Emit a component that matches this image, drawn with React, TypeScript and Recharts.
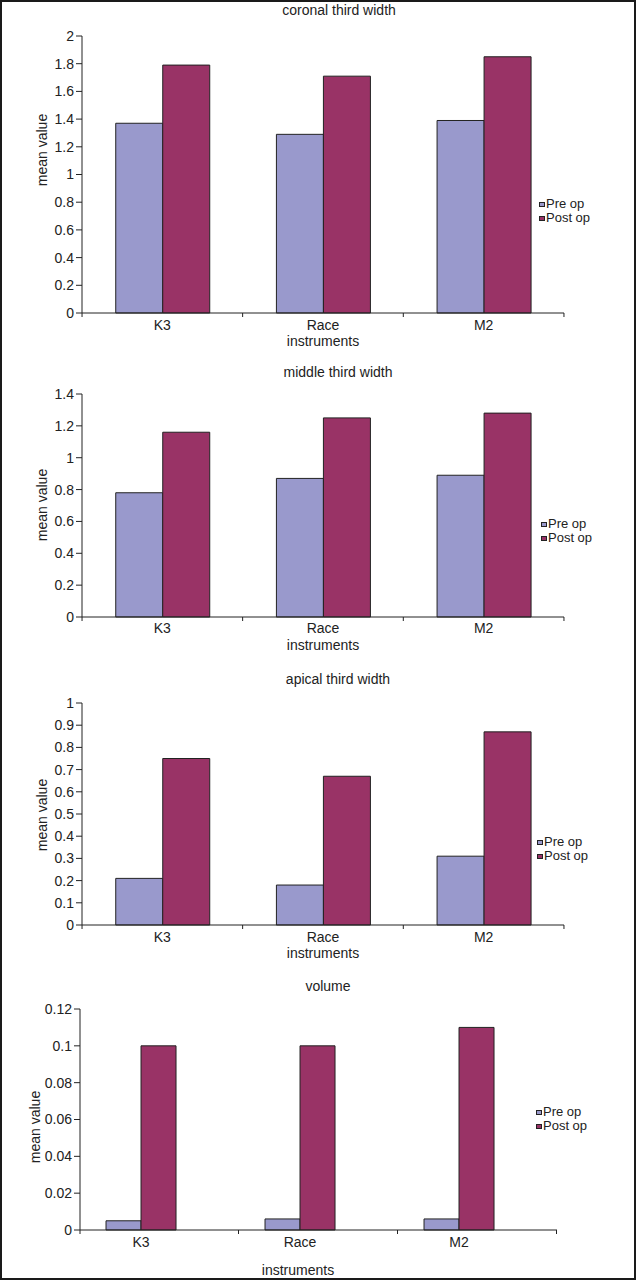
import React from "react";
import { BarChart, Bar, XAxis, YAxis, Legend } from "recharts";

// data
const categories = ["K3", "Race", "M2"];
const seriesNames = ["Pre op", "Post op"];

const coronalPre = [1.37, 1.29, 1.39];
const coronalPost = [1.79, 1.71, 1.85];
const coronalTicks = [0, 0.2, 0.4, 0.6, 0.8, 1, 1.2, 1.4, 1.6, 1.8, 2];

const middlePre = [0.78, 0.87, 0.89];
const middlePost = [1.16, 1.25, 1.28];
const middleTicks = [0, 0.2, 0.4, 0.6, 0.8, 1, 1.2, 1.4];

const apicalPre = [0.21, 0.18, 0.31];
const apicalPost = [0.75, 0.67, 0.87];
const apicalTicks = [0, 0.1, 0.2, 0.3, 0.4, 0.5, 0.6, 0.7, 0.8, 0.9, 1];

const volumePre = [0.005, 0.006, 0.006];
const volumePost = [0.1, 0.1, 0.11];
const volumeTicks = [0, 0.02, 0.04, 0.06, 0.08, 0.1, 0.12];

const COLORS = {
    pre: "#9999cc",
    post: "#993366",
    ink: "#222",
};

const FONT = '"Liberation Sans", Arial, sans-serif';

const rows = (pre: number[], post: number[]) =>
    categories.map((name, i) => ({ name, pre: pre[i], post: post[i] }));

// layout of each panel, in page pixels
const panels = [
    {
        title: "coronal third width", data: rows(coronalPre, coronalPost), ticks: coronalTicks,
        top: 0, height: 355, plotTop: 36, plotBottom: 313, plotLeft: 82, plotRight: 564,
        titleX: 339, titleY: 10, yLabelX: 42, yLabelY: 150, catY: 325, instrX: 323, instrY: 341,
        legendX: 539, legendY: 204, gap: "21%", pad: { left: 0, right: 0 }, tickL: 80.3, tickR: 80.3,
    },
    {
        title: "middle third width", data: rows(middlePre, middlePost), ticks: middleTicks,
        top: 355, height: 307, plotTop: 394, plotBottom: 617, plotLeft: 82, plotRight: 564,
        titleX: 338, titleY: 372, yLabelX: 42, yLabelY: 505, catY: 628, instrX: 323, instrY: 645,
        legendX: 541, legendY: 524, gap: "21%", pad: { left: 0, right: 0 }, tickL: 80.3, tickR: 80.3,
    },
    {
        title: "apical third width", data: rows(apicalPre, apicalPost), ticks: apicalTicks,
        top: 662, height: 308, plotTop: 703, plotBottom: 925, plotLeft: 82, plotRight: 564,
        titleX: 338, titleY: 679, yLabelX: 42, yLabelY: 815, catY: 937, instrX: 323, instrY: 953,
        legendX: 537, legendY: 842, gap: "21%", pad: { left: 0, right: 0 }, tickL: 80.3, tickR: 80.3,
    },
    {
        title: "volume", data: rows(volumePre, volumePost), ticks: volumeTicks,
        top: 970, height: 310, plotTop: 1009, plotBottom: 1230, plotLeft: 80, plotRight: 557,
        titleX: 328, titleY: 986, yLabelX: 35, yLabelY: 1127, catY: 1242, instrX: 298, instrY: 1270,
        legendX: 536, legendY: 1112, gap: "28%", pad: { left: -18.5, right: 18.5 }, tickL: 61, tickR: 97.5,
    },
];

type Panel = (typeof panels)[number];

const fmt = (v: number) => String(Number(v.toFixed(3)));

function CatTick(props: any) {
    const { x, y, payload, index, cfg } = props;
    return (
        <g>
            <text x={x} y={cfg.catY - cfg.top} textAnchor="middle" dominantBaseline="central"
                fontSize={14} fill={COLORS.ink} fontFamily={FONT}>{payload.value}</text>
            <line x1={x + cfg.tickR} x2={x + cfg.tickR} y1={y} y2={y + 4} stroke={COLORS.ink} />
            {index === 0 && <line x1={x - cfg.tickL} x2={x - cfg.tickL} y1={y} y2={y + 4} stroke={COLORS.ink} />}
        </g>
    );
}

function LegendBox() {
    const fills = [COLORS.pre, COLORS.post];
    return (
        <div style={{ fontFamily: FONT, fontSize: 13, color: COLORS.ink, lineHeight: "14px" }}>
            {seriesNames.map((n, i) => (
                <div key={n} style={{ display: "flex", alignItems: "center", height: 14, whiteSpace: "nowrap" }}>
                    <span style={{ width: 4, height: 3, background: fills[i], border: `1px solid ${COLORS.ink}`, marginRight: 1 }} />
                    {n}
                </div>
            ))}
        </div>
    );
}

function PanelChart({ cfg }: { cfg: Panel }) {
    const top = cfg.top;
    const max = cfg.ticks[cfg.ticks.length - 1];
    return (
        <div style={{ position: "absolute", left: 0, top, width: 636, height: cfg.height }}>
            <div style={{
                position: "absolute", left: cfg.titleX - 150, width: 300, top: cfg.titleY - top - 8,
                textAlign: "center", fontFamily: FONT, fontSize: 14, color: COLORS.ink, lineHeight: "16px",
            }}>{cfg.title}</div>
            <BarChart
                width={636}
                height={cfg.height}
                data={cfg.data}
                margin={{ top: cfg.plotTop - top, right: 636 - cfg.plotRight, bottom: 0, left: 0 }}
                barCategoryGap={cfg.gap}
                barGap={0}
            >
                <XAxis
                    dataKey="name"
                    height={cfg.height - (cfg.plotBottom - top)}
                    padding={cfg.pad}
                    tickSize={0}
                    tickMargin={0}
                    tickLine={false}
                    axisLine={{ stroke: COLORS.ink }}
                    interval={0}
                    tick={(p: any) => <CatTick {...p} cfg={cfg} />}
                    label={{
                        value: "instruments",
                        content: () => (
                            <text x={cfg.instrX} y={cfg.instrY - top} textAnchor="middle" dominantBaseline="central"
                                fontSize={14} fill={COLORS.ink} fontFamily={FONT}>instruments</text>
                        ),
                    }}
                />
                <YAxis
                    width={cfg.plotLeft}
                    domain={[0, max]}
                    ticks={cfg.ticks}
                    interval={0}
                    tickFormatter={fmt}
                    tickSize={6}
                    tickMargin={2}
                    tickLine={{ stroke: COLORS.ink }}
                    axisLine={{ stroke: COLORS.ink }}
                    tick={{ fontSize: 14, fill: COLORS.ink, fontFamily: FONT }}
                    label={{
                        value: "mean value",
                        content: () => (
                            <text x={cfg.yLabelX} y={cfg.yLabelY - top} textAnchor="middle" dominantBaseline="central"
                                transform={`rotate(-90, ${cfg.yLabelX}, ${cfg.yLabelY - top})`}
                                fontSize={14} fill={COLORS.ink} fontFamily={FONT}>mean value</text>
                        ),
                    }}
                />
                <Legend
                    layout="vertical"
                    align="center"
                    verticalAlign="middle"
                    wrapperStyle={{ left: cfg.legendX, top: cfg.legendY - top - 7, width: 90 }}
                    content={() => <LegendBox />}
                />
                <Bar dataKey="pre" name={seriesNames[0]} fill={COLORS.pre} stroke={COLORS.ink} strokeWidth={1} isAnimationActive={false} />
                <Bar dataKey="post" name={seriesNames[1]} fill={COLORS.post} stroke={COLORS.ink} strokeWidth={1} isAnimationActive={false} />
            </BarChart>
        </div>
    );
}

export default function App() {
    return (
        <div style={{ position: "absolute", left: 0, top: 0, width: 636, height: 1280, background: "#fff" }}>
            {panels.map((cfg) => (
                <PanelChart key={cfg.title} cfg={cfg} />
            ))}
            <div style={{
                position: "absolute", left: 0, top: 0, width: 636, height: 1280, boxSizing: "border-box",
                border: "2px solid #1a1a1a", pointerEvents: "none",
            }} />
        </div>
    );
}
